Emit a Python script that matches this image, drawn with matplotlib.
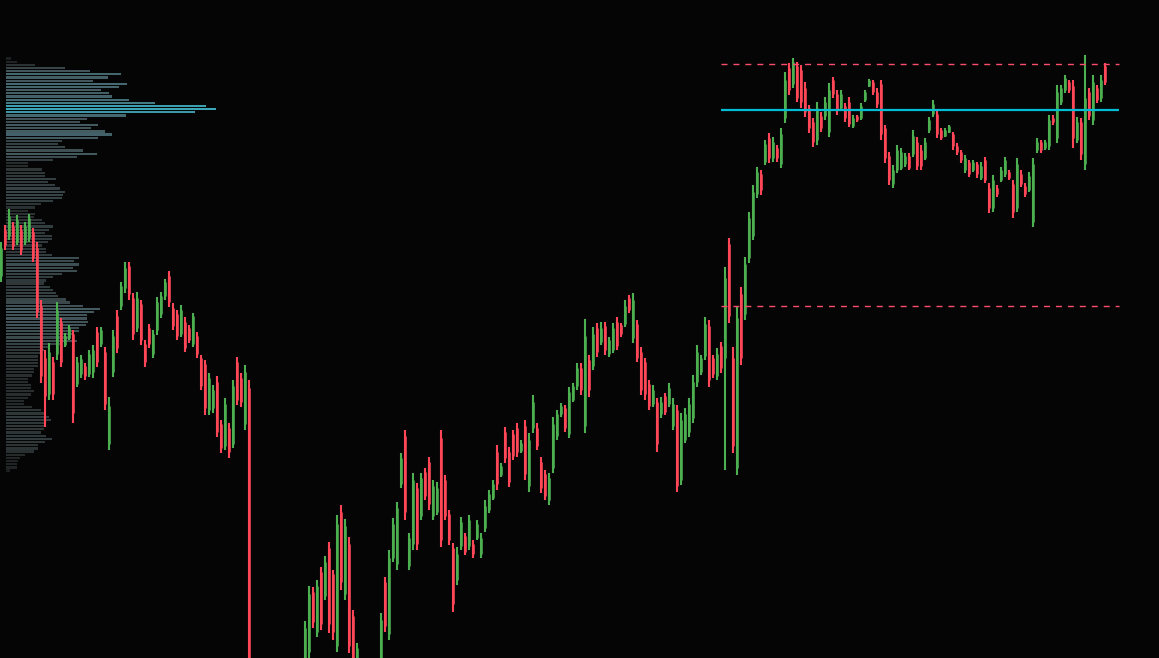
import numpy as np
import matplotlib
matplotlib.use('Agg')
import matplotlib.pyplot as plt
from matplotlib.colors import LinearSegmentedColormap

# ---- candle data (arbitrary price units) ----
opens = [382,428,422,432,416,428,416,420,426,410,352,300,264,296,304,336,313,320,324,274,
         284,292,284,286,326,314,306,214,286,342,352,370,392,360,330,354,314,330,304,328,
         344,362,382,350,344,324,336,330,314,322,300,294,248,250,276,234,212,230,214,296,
         280,234,270,-35,-90,-55,-85,-45,-70,-40,-18,-45,-30,-20,-40,-10,-15,6,66,26,
         86,62,110,84,12,146,64,114,42,-28,-8,-55,-20,-55,-15,-10,76,24,100,94,
         174,222,92,114,170,142,186,196,142,146,220,178,144,110,78,112,122,112,114,120,
         104,130,148,160,206,183,226,206,224,230,207,232,172,230,230,196,184,158,190,222,
         244,250,224,258,272,290,232,298,292,330,316,332,304,308,336,333,334,360,320,334,
         306,296,274,254,256,244,262,254,232,248,178,218,226,240,276,286,302,332,300,282,
         312,300,414,300,190,364,344,400,422,464,484,496,520,500,510,494,540,590,574,592,
         588,570,550,536,518,542,542,526,578,564,550,552,556,532,542,540,558,572,576,566,
         574,530,502,474,488,490,494,502,504,516,508,500,528,544,544,528,522,526,524,512,
         506,488,496,488,494,480,498,470,450,470,478,484,486,474,450,484,472,468,436,508,
         516,510,512,540,520,556,568,576,572,518,536,494,566,538,570,560,592]
highs = [416,433,449,436,443,433,436,444,430,416,358,308,315,301,356,340,325,333,328,301,
         303,295,308,313,331,331,311,261,328,348,376,396,396,365,366,358,318,334,328,361,
         366,379,387,355,348,353,341,333,345,326,303,298,285,273,282,238,260,235,278,301,
         285,293,278,-30,-50,-45,-40,-35,-30,-15,-10,-5,-15,-12,-8,-5,37,72,71,78,
         91,102,116,88,143,153,139,121,48,15,-5,-10,-15,-10,0,45,81,108,140,156,
         205,228,125,185,175,185,190,201,178,176,228,183,148,115,111,141,125,143,118,138,
         125,158,168,178,213,195,231,211,228,235,218,238,225,263,235,201,188,185,241,248,
         255,253,271,275,295,295,339,303,331,335,336,336,321,335,341,335,358,363,365,338,
         311,300,278,273,260,261,265,275,260,253,245,250,260,283,313,303,341,338,303,310,
         316,391,420,311,351,371,401,446,473,491,488,518,525,521,513,530,586,595,600,596,
         593,576,553,540,556,546,561,575,581,568,568,555,561,543,543,555,568,579,578,570,
         578,533,506,493,513,510,505,505,528,521,513,520,541,558,548,530,530,533,526,515,
         508,503,498,498,496,496,501,475,483,473,491,501,488,478,500,488,475,486,500,520,
         518,518,543,543,573,573,583,578,578,541,540,603,570,583,573,583,595]
lows = [376,408,418,408,413,403,413,416,396,340,275,231,258,258,298,291,311,318,235,271,
        280,278,281,280,291,311,248,208,281,305,348,365,358,318,326,313,291,310,300,323,
        340,358,351,328,318,321,306,315,311,300,268,243,243,245,221,205,208,200,210,253,
        251,228,-42,-90,-100,-95,-90,-80,-75,-60,-55,-50,-55,-50,-45,-40,-22,0,30,21,
        28,58,25,18,6,68,58,5,-12,-32,-60,-65,-70,-60,-45,-22,26,18,96,88,
        170,138,88,108,108,138,158,148,138,143,111,138,113,46,73,108,103,108,100,118,
        100,126,145,158,168,181,195,171,198,201,205,178,166,225,208,165,158,153,185,218,
        241,226,220,256,268,263,225,261,288,301,313,303,301,305,308,321,331,345,315,296,
        263,258,248,251,206,240,243,251,228,166,173,215,221,235,271,283,298,271,280,278,
        285,188,335,205,183,293,338,395,418,460,463,493,495,496,496,490,535,563,570,556,
        550,541,525,511,513,526,538,521,560,543,548,536,531,530,536,538,556,571,563,550,
        518,495,473,470,485,488,491,488,501,488,488,498,525,541,520,518,521,525,508,503,
        495,485,481,486,480,478,475,445,446,461,476,481,478,440,446,471,461,466,431,505,
        505,508,508,533,515,553,565,565,510,515,498,488,538,533,555,556,573]
closes = [410,413,442,412,438,408,432,440,400,346,282,262,306,264,348,296,322,330,245,296,
          299,282,304,308,296,328,254,252,322,310,372,390,364,324,360,318,296,314,324,356,
          362,376,356,332,322,348,310,318,342,304,272,250,280,268,226,210,254,206,272,258,
          256,286,-30,-80,-60,-85,-50,-70,-40,-20,-45,-10,-20,-40,-12,-30,30,64,36,72,
          34,96,34,26,134,76,132,12,-6,10,-50,-20,-60,-15,-5,38,32,100,134,150,
          200,146,120,178,114,180,162,154,172,170,118,142,118,54,104,136,106,138,104,134,
          120,152,164,174,174,192,200,176,202,206,215,184,218,256,212,170,162,180,234,244,
          252,230,266,272,290,268,322,268,324,306,330,308,318,330,312,324,352,348,358,300,
          268,264,252,268,214,256,246,270,254,172,238,244,254,276,306,300,334,278,284,304,
          290,380,342,212,340,300,394,440,466,486,468,514,500,516,500,524,578,568,596,560,
          556,546,530,516,550,530,556,568,564,548,564,540,534,540,538,552,566,578,566,554,
          524,500,478,488,508,506,502,490,522,492,492,516,538,554,524,520,528,532,512,506,
          498,500,484,496,484,492,478,450,478,464,488,498,480,446,494,474,464,482,494,516,
          508,516,538,536,566,570,580,568,520,536,504,560,542,576,558,578,576]

# ---- volume profile (rows from top price level downward) ----
profile_volumes = [5,11,29,59,84,115,102,87,121,113,
                   95,103,106,123,149,200,210,189,120,81,
                   74,92,85,99,106,92,56,52,59,77,
                   91,71,47,22,22,36,39,39,50,42,
                   49,54,59,57,56,47,35,29,22,29,
                   28,36,39,47,43,39,46,46,42,36,
                   40,40,46,73,68,73,67,71,56,47,
                   40,38,44,47,50,52,60,64,77,94,
                   88,81,81,82,80,73,73,67,65,71,
                   56,44,38,36,32,32,32,32,28,28,
                   26,22,22,25,25,28,25,22,18,18,
                   26,35,39,43,45,39,40,38,35,40,
                   46,39,32,32,28,19,14,12,11,11,4]
profile_top_price = 599.5
profile_step = 3.17

# ---- key levels ----
poc_price = 548
range_high = 594
range_low = 352
level_start_bar = 180
level_end_bar = 279.5

BG = '#050505'
UP = '#4caf50'
DOWN = '#ff4757'

fig = plt.figure(figsize=(11.59, 6.58), dpi=100, facecolor=BG)

# profile axes (behind)
axp = fig.add_axes([0, 0, 1, 1], zorder=0)
axp.set_facecolor(BG)
axp.set_xlim(-6, 1153)
axp.set_ylim(0, 658)
axp.axis('off')
vols = np.array(profile_volumes, dtype=float)
levels = profile_top_price - profile_step * np.arange(len(vols))
cmap = LinearSegmentedColormap.from_list(
    'vp', [(0.0, '#1a1c1c'), (0.15, '#2c3334'), (0.4, '#42555a'),
           (0.65, '#45727a'), (1.0, '#3aa6b8')])
axp.barh(levels, vols, height=2.2, left=0, color=cmap(vols / vols.max()),
         linewidth=0)

# candle axes (front)
ax = fig.add_axes([0, 0, 1, 1], zorder=1)
ax.patch.set_visible(False)
n = len(closes)
idx = np.arange(n)
o = np.array(opens, float); c = np.array(closes, float)
h = np.array(highs, float); l = np.array(lows, float)
cols = np.where(c >= o, UP, DOWN)
ax.vlines(idx, l, h, colors=cols, linewidth=1.5)
ax.vlines(idx, np.minimum(o, c), np.maximum(o, c), colors=cols, linewidth=1.85)

ax.hlines(poc_price, level_start_bar, level_end_bar, color='#00bcd4',
          linewidth=1.6, zorder=5)
ax.hlines([range_high, range_low], level_start_bar, level_end_bar,
          color='#ff4d6d', linewidth=1.0, linestyles=(0, (4.3, 4.3)), zorder=5)

ax.set_xlim(-0.25, 289.5)
ax.set_ylim(0, 658)
ax.axis('off')

fig.savefig('out.png', dpi=100, facecolor=BG)
